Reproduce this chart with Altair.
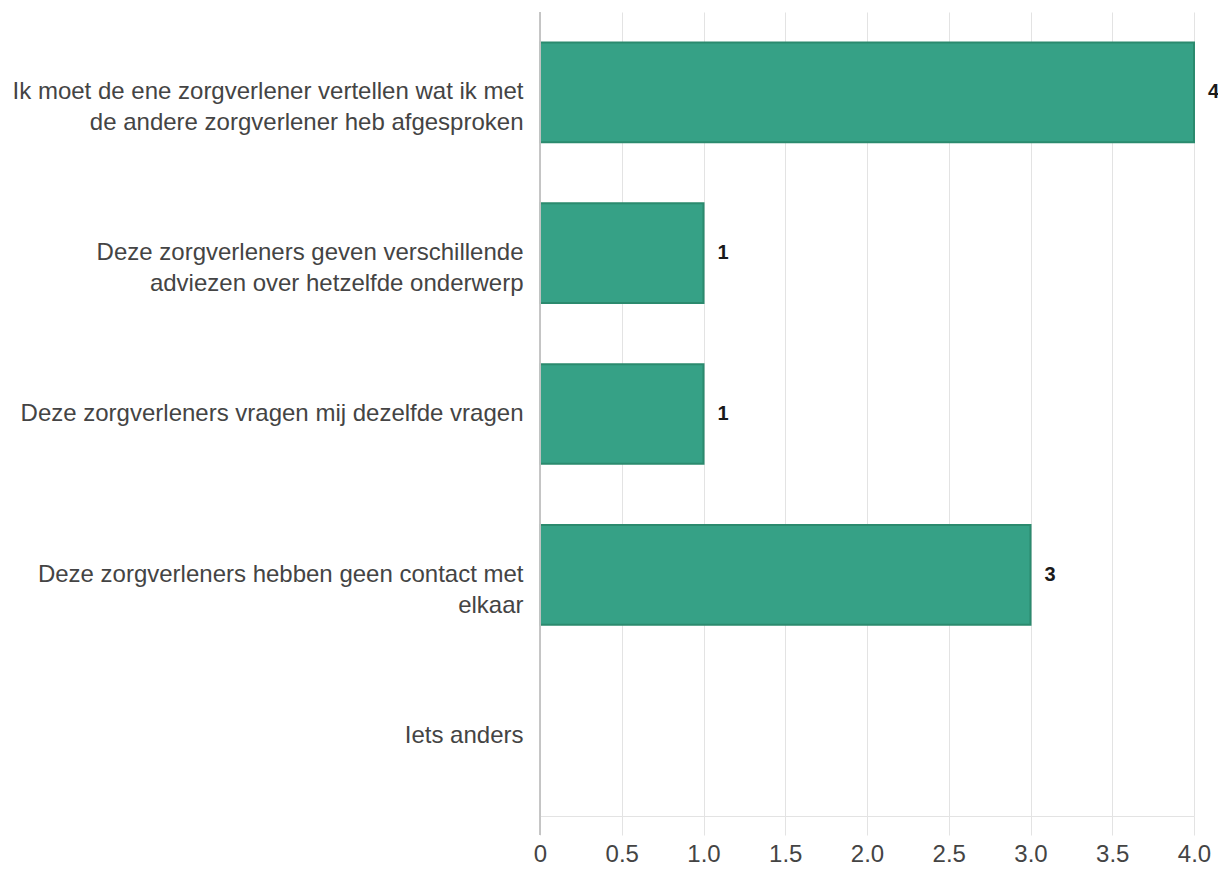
import altair as alt
import pandas as pd

categories = [
    "Ik moet de ene zorgverlener vertellen wat ik met|de andere zorgverlener heb afgesproken",
    "Deze zorgverleners geven verschillende|adviezen over hetzelfde onderwerp",
    "Deze zorgverleners vragen mij dezelfde vragen",
    "Deze zorgverleners hebben geen contact met|elkaar",
    "Iets anders",
]
values = [4, 1, 1, 3, 0]
value_labels = ["4", "1", "1", "3", ""]
x_ticks = [0, 0.5, 1.0, 1.5, 2.0, 2.5, 3.0, 3.5, 4.0]

df = pd.DataFrame({"cat": categories, "val": values, "lab": value_labels})

FONT = "Liberation Sans"

y_enc = alt.Y(
    "cat:N",
    sort=categories,
    scale=alt.Scale(domain=categories, paddingInner=0.38, paddingOuter=0.19),
    axis=alt.Axis(
        title=None,
        labelExpr="split(datum.label, '|')",
        labelFont=FONT,
        labelFontSize=24,
        labelColor="#444444",
        labelPadding=17,
        labelLimit=600,
        labelLineHeight=31,
        ticks=False,
        domain=False,
        grid=False,
    ),
)

x_enc = alt.X(
    "val:Q",
    scale=alt.Scale(domain=[0, 4], nice=False),
    axis=alt.Axis(
        title=None,
        values=x_ticks,
        labelExpr="datum.value == 0 ? '0' : format(datum.value, '.1f')",
        labelFont=FONT,
        labelFontSize=24,
        labelColor="#444444",
        labelPadding=7,
        tickSize=19,
        tickColor="#e3e3e3",
        gridColor="#e3e3e3",
        domainColor="#e3e3e3",
        labelFlush=False,
    ),
)

base = alt.Chart(df)

bars = base.transform_filter("datum.val > 0").mark_bar(
    color="#36a186", stroke="#2b8a6e", strokeWidth=2
).encode(x=x_enc, y=y_enc)

zero_line = base.mark_rule(color="#c4c4c4", strokeWidth=1).encode(
    x=alt.datum(0), y=alt.value(0), y2=alt.value(823)
)

text = base.mark_text(
    align="left", dx=14, font=FONT, fontSize=20, fontWeight="bold", color="#1a1a1a"
).encode(x="val:Q", y=alt.Y("cat:N", sort=categories), text="lab:N")

chart = (
    alt.layer(bars, zero_line, text)
    .properties(
        width=654,
        height=804,
        padding={"left": 532, "top": 4, "right": 24, "bottom": 53},
        autosize=alt.AutoSizeParams(type="none"),
    )
    .configure_view(stroke=None)
)

chart.save("out.html", embed_options={"renderer": "svg", "actions": False})
